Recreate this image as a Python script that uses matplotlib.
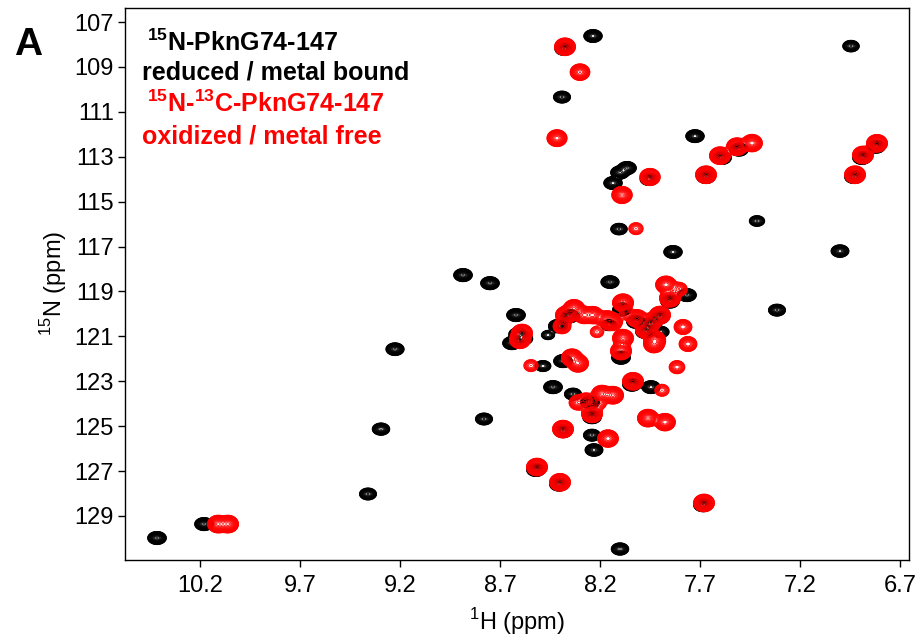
import numpy as np
import matplotlib.pyplot as plt

plt.rcParams['font.family'] = 'Liberation Sans'
plt.rcParams['mathtext.fontset'] = 'custom'
plt.rcParams['mathtext.rm'] = 'Liberation Sans'
plt.rcParams['mathtext.bf'] = 'Liberation Sans:bold'

# peak list, reduced / metal bound (black): 1H ppm, 15N ppm, relative height
black_h = [10.415, 10.18, 9.36, 9.295, 9.225, 8.885, 8.75, 8.78, 8.62, 8.64,
           8.61, 8.41, 8.46, 8.485, 8.385, 8.235, 8.38, 8.39, 7.725, 7.59,
           7.67, 8.065, 8.10, 8.135, 7.955, 8.105, 7.505, 7.415, 7.00, 7.315,
           6.93, 6.89, 6.82, 6.945, 7.835, 8.15, 7.765, 7.85, 8.09, 8.155,
           8.02, 7.90, 7.945, 7.975, 7.895, 8.095, 8.435, 8.335, 8.25, 8.24,
           8.24, 8.23, 8.04, 7.945, 8.385, 8.52, 8.405, 7.685, 8.10, 8.58,
           8.35]
black_n = [129.98, 129.36, 128.02, 125.13, 121.57, 118.27, 118.63, 124.68, 120.05, 121.30,
           120.90, 120.54, 120.94, 122.32, 122.10, 107.62, 108.20, 110.34, 112.08, 113.05,
           113.90, 113.50, 113.70, 114.17, 114.00, 116.22, 112.68, 115.86, 117.20, 119.83,
           113.90, 113.05, 112.55, 108.07, 117.24, 118.58, 119.16, 119.45, 119.80, 120.50,
           120.35, 120.15, 120.45, 120.80, 120.80, 121.95, 123.26, 123.57, 123.93, 124.60,
           125.40, 126.06, 123.15, 123.26, 125.22, 126.95, 127.60, 128.52, 130.47, 121.10,
           120.10]
black_amp = [1.0, 1.0, 0.5, 0.6, 0.8, 1.0, 1.0, 0.5, 1.0, 1.0,
             0.9, 1.2, 0.12, 0.3, 1.0, 0.9, 0.8, 0.5, 0.9, 1.0,
             1.0, 1.0, 1.0, 0.9, 0.7, 0.4, 1.0, 0.25, 0.7, 0.5,
             1.0, 1.0, 1.0, 0.4, 0.9, 0.8, 1.0, 1.0, 1.0, 0.3,
             1.0, 1.0, 1.0, 1.0, 0.35, 1.0, 1.0, 0.5, 1.0, 1.0,
             0.5, 0.7, 1.0, 0.9, 1.0, 1.0, 1.0, 1.0, 0.6, 0.6,
             1.0]

# peak list, oxidized / metal free (red)
red_h = [10.11, 10.06, 8.375, 8.30, 8.415, 7.60, 7.67, 7.515, 7.44, 7.95,
         8.09, 8.02, 6.925, 6.885, 6.815, 7.87, 7.805, 7.85, 8.085, 8.33,
         8.37, 8.28, 8.235, 8.165, 8.14, 8.015, 7.90, 7.945, 7.97, 7.925,
         8.085, 8.095, 7.785, 7.76, 7.815, 8.59, 8.60, 8.545, 8.39, 8.34,
         8.31, 8.035, 7.89, 8.19, 8.135, 8.27, 8.31, 8.24, 8.205, 7.96,
         7.875, 8.16, 8.385, 8.515, 8.40, 7.68, 8.215, 8.065, 7.93]
red_n = [129.36, 129.36, 108.10, 109.23, 112.17, 112.95, 113.80, 112.55, 112.39, 113.90,
         114.70, 116.20, 113.80, 112.92, 112.40, 118.70, 118.90, 119.30, 119.50, 119.75,
         120.05, 120.05, 120.05, 120.25, 120.35, 120.20, 120.05, 120.36, 120.70, 121.15,
         121.08, 121.65, 120.58, 121.34, 122.37, 120.85, 121.15, 122.30, 120.55, 121.95,
         122.20, 123.00, 123.40, 123.57, 123.62, 123.85, 123.95, 124.45, 124.00, 124.64,
         124.82, 125.55, 125.13, 126.82, 127.50, 128.42, 120.80, 120.00, 121.35]
red_amp = [1.0, 1.0, 1.0, 0.6, 0.7, 1.0, 1.0, 1.0, 0.9, 0.8,
           0.8, 0.1, 1.0, 1.0, 1.0, 0.9, 0.2, 1.0, 1.0, 1.0,
           1.0, 0.8, 0.8, 1.0, 1.0, 1.0, 1.0, 1.0, 1.0, 1.0,
           1.0, 1.0, 0.3, 0.3, 0.15, 1.0, 1.0, 0.1, 0.3, 1.0,
           1.0, 1.0, 0.1, 1.0, 1.0, 0.3, 0.3, 1.0, 0.1, 1.0,
           0.9, 0.9, 1.0, 1.0, 1.0, 1.0, 0.08, 0.08, 0.8]

# spectral window
H = np.linspace(10.575, 6.655, 1600)
N = np.linspace(106.35, 130.96, 1100)


def spectrum(ph, pn, amp, sh, sn):
    z = np.zeros((len(N), len(H)))
    for h0, n0, a in zip(ph, pn, amp):
        z += a * np.outer(np.exp(-0.5 * ((N - n0) / sn) ** 2),
                          np.exp(-0.5 * ((H - h0) / sh) ** 2))
    return z


z_black = spectrum(black_h, black_n, black_amp, 0.016, 0.10)
z_red = spectrum(red_h, red_n, red_amp, 0.018, 0.135)

thr = 1.0 / 75
levels = thr * 1.25 ** np.arange(30)

fig = plt.figure(figsize=(9.22, 6.39), dpi=100)
ax = fig.add_axes([125 / 922, 1 - 560 / 639, 784 / 922, 552.5 / 639])

ax.contour(H, N, z_black, levels=levels, colors='black', linewidths=0.6)
ax.contour(H, N, z_red, levels=levels, colors='red', linewidths=0.6)

ax.set_xlim(10.575, 6.655)
ax.set_ylim(130.96, 106.35)
ax.set_xticks([10.2, 9.7, 9.2, 8.7, 8.2, 7.7, 7.2, 6.7])
ax.set_yticks(np.arange(107, 130, 2))
ax.tick_params(direction='out', length=5, width=1, labelsize=17)
ax.tick_params(axis='x', pad=6)
ax.tick_params(axis='y', pad=3)
for s in ax.spines.values():
    s.set_linewidth(1)

ax.set_xlabel(r'$^{1}$H (ppm)', fontsize=17, labelpad=6)
ax.set_ylabel(r'$^{15}$N (ppm)', fontsize=17, labelpad=4)

fig.text(147 / 922, 1 - 43 / 639, r'$^{\mathbf{15}}$N-PknG74-147', fontsize=18,
         fontweight='bold', va='center', ha='left')
fig.text(142 / 922, 1 - 72 / 639, 'reduced / metal bound', fontsize=18,
         fontweight='bold', va='center', ha='left')
fig.text(147 / 922, 1 - 104 / 639, r'$^{\mathbf{15}}$N-$^{\mathbf{13}}$C-PknG74-147',
         fontsize=18, fontweight='bold', color='red', va='center', ha='left')
fig.text(142 / 922, 1 - 136 / 639, 'oxidized / metal free', fontsize=18,
         fontweight='bold', color='red', va='center', ha='left')
fig.text(14 / 922, 1 - 45 / 639, 'A', fontsize=28, fontweight='bold',
         va='center', ha='left')

fig.savefig('out.png', dpi=100)
